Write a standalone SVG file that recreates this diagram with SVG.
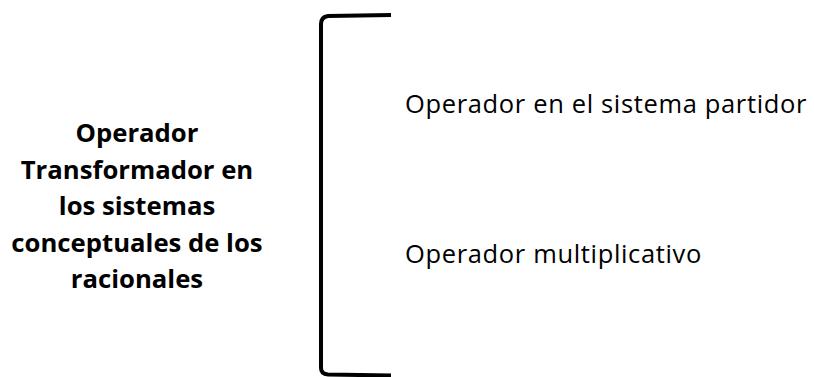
<svg xmlns="http://www.w3.org/2000/svg" width="814" height="377" viewBox="0 0 814 377">
<style>
.t{font-family:"Open Sans","Liberation Sans",sans-serif;fill:#000;font-variant-ligatures:none}
.b{font-weight:bold;font-size:25.7px;text-anchor:middle}
.r{font-size:25.5px;letter-spacing:0.65px}
.br{fill:none;stroke:#000;stroke-width:4;stroke-linecap:butt}
</style>
<rect width="814" height="377" fill="#fff"/>
<g id="main-label">
<text class="t b" x="137" y="142">Operador</text>
<text class="t b" x="137" y="178.5">Transformador en</text>
<text class="t b" x="137" y="215">los sistemas</text>
<text class="t b" x="137" y="251.5">conceptuales de los</text>
<text class="t b" x="137" y="288">racionales</text>
</g>
<g id="connectors">
<path class="br" d="M391,15 L328,16 Q321,17 321,24 L321,368 Q321,374 328,374.5 L391,375.5"/>
</g>
<g id="item1">
<text class="t r" x="405" y="113">Operador en el sistema partidor</text>
</g>
<g id="item2">
<text class="t r" x="405" y="263">Operador multiplicativo</text>
</g>
</svg>
